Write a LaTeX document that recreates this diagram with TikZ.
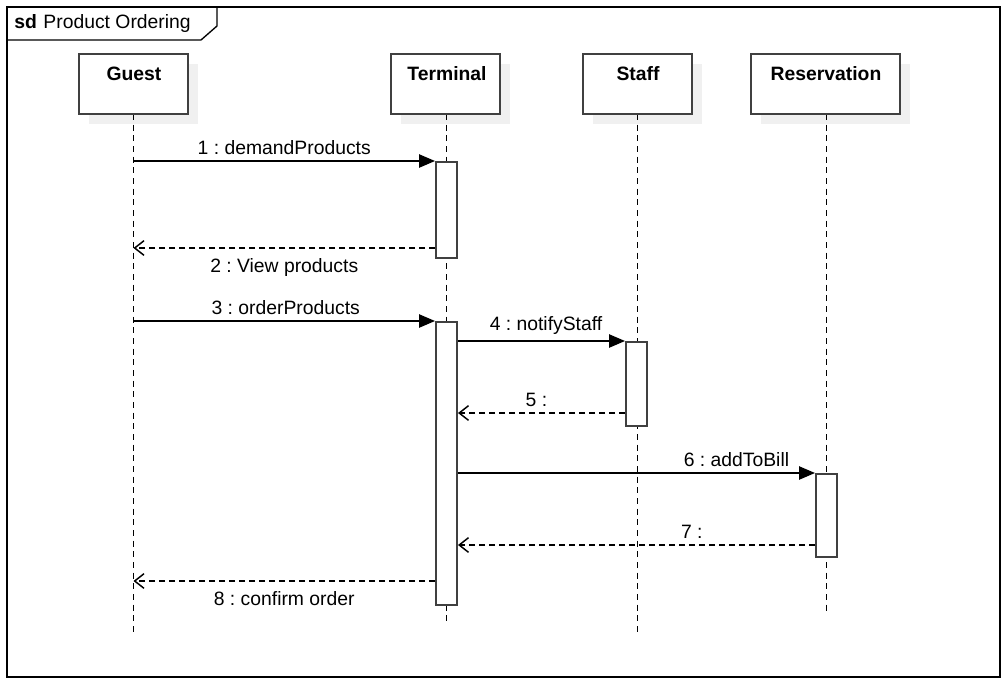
\documentclass[tikz,border=0pt]{standalone}
\usepackage{fontspec}
\setmainfont{Liberation Sans}
\usetikzlibrary{arrows.meta,fit,positioning}
\definecolor{linegray}{HTML}{404040}
\definecolor{shadowgray}{HTML}{F0F0F0}
\frenchspacing
\tikzset{
  x=0.75pt, y=-0.75pt,
  frame/.style={draw=black, line width=1pt},
  headbox/.style={draw=linegray, line width=1.5pt, fill=white, inner sep=0pt},
  headshadow/.style={fill=shadowgray, draw=none, inner sep=0pt},
  headtext/.style={font=\fontsize{14.5}{17}\selectfont\bfseries, inner sep=0pt},
  actbox/.style={draw=linegray, line width=1.5pt, fill=white, inner sep=0pt},
  lifeline/.style={draw=black, line width=1pt, dash pattern=on 4.5pt off 3.5pt},
  callmsg/.style={draw=black, line width=1.1pt, -{Triangle[length=12pt,width=10pt]}},
  replymsg/.style={draw=black, line width=1.1pt, dash pattern=on 4.5pt off 3pt,
    -{Straight Barb[length=7pt,width=11pt]}},
  msglabel/.style={font=\fontsize{14.5}{17}\selectfont, inner sep=2pt},
  above label/.style={msglabel, anchor=south, yshift=2.5pt},
  below label/.style={msglabel, anchor=north, yshift=-5pt},
}
\begin{document}
\begin{tikzpicture}
\useasboundingbox (0,0) rectangle (1008,683);
\fill[white] (0,0) rectangle (1008,683);

% outer frame and its name tab
\draw[frame] (7,7) rectangle (1000,677);
\draw[frame] (7,40) -- (201,40) -- (217,26) -- (217,7);
\node[anchor=west, inner sep=0pt, font=\fontsize{14.5}{17}\selectfont] (sdname) at (14,23)
  {\textbf{sd}\hspace{5pt}Product Ordering};

% lifeline heads: drop shadows first
\node[headshadow, fit={(89,64)(198,124)}] (guestsh) {};
\node[headshadow, fit={(401,64)(510,124)}] (termsh) {};
\node[headshadow, fit={(593,64)(702,124)}] (staffsh) {};
\node[headshadow, fit={(761,64)(910,124)}] (ressh) {};

% lifeline ends
\coordinate (guestend) at (133.5,633);
\coordinate (termend) at (446.5,623);
\coordinate (staffend) at (637.5,633);
\coordinate (resend) at (826.5,613);

% dashed lifelines
\draw[lifeline] (133.5,114) -- (guestend);
\draw[lifeline] (446.5,114) -- (termend);
\draw[lifeline] (637.5,114) -- (staffend);
\draw[lifeline] (826.5,114) -- (resend);

% head boxes
\node[headbox, fit={(79,54)(188,114)}] (guest) {};
\node[headbox, fit={(391,54)(500,114)}] (term) {};
\node[headbox, fit={(583,54)(692,114)}] (staff) {};
\node[headbox, fit={(751,54)(900,114)}] (res) {};
\node[headtext] (guestT) at (134,74) {Guest};
\node[headtext] (termT) at (447,74) {Terminal};
\node[headtext] (staffT) at (638,74) {Staff};
\node[headtext] (resT) at (826,74) {Reservation};

% activation bars
\node[actbox, fit={(436,162)(457,258)}] (act1) {};
\node[actbox, fit={(436,322)(457,605)}] (act2) {};
\node[actbox, fit={(626,342)(647,426)}] (act3) {};
\node[actbox, fit={(816,474)(837,557)}] (act4) {};

% message anchors on the Guest lifeline
\coordinate (g1) at (guestend |- act1.north);
\coordinate (g2) at (guestend |- 0,248);
\coordinate (g3) at (guestend |- act2.north);
\coordinate (g8) at (guestend |- 0,581);

% messages
\draw[callmsg] (g1) -- (act1.north west)
  node[above label, pos=0.5] {1 : demandProducts};
\draw[replymsg] (act1.west |- g2) -- (g2)
  node[below label, pos=0.5] {2 : View products};
\draw[callmsg] (g3) -- (act2.north west)
  node[above label, pos=0.505] {3 : orderProducts};
\draw[callmsg] (act2.east |- act3.north) -- (act3.north west)
  node[above label, pos=0.527] {4 : notifyStaff};
\draw[replymsg] (act3.west |- 0,413) -- (act2.east |- 0,413)
  node[above label, pos=0.53] {5 :};
\draw[callmsg] (act2.east |- act4.north) -- (act4.north west)
  node[above label, pos=0.78] {6 : addToBill};
\draw[replymsg] (act4.west |- 0,545) -- (act2.east |- 0,545)
  node[above label, pos=0.345] {7 :};
\draw[replymsg] (act2.west |- g8) -- (g8)
  node[below label, pos=0.5] {8 : confirm order};
\end{tikzpicture}
\end{document}
